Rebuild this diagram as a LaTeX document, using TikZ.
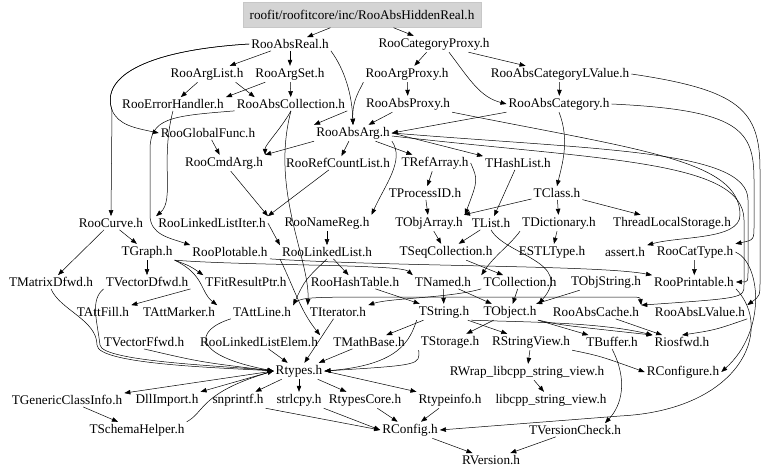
\documentclass[tikz,border=0pt]{standalone}
\usepackage{fontspec}
\setmainfont{Liberation Serif}
\usetikzlibrary{arrows.meta}
\tikzset{
  hdr/.style={font=\fontsize{13.2}{15}\selectfont,inner sep=2pt},
  hdrroot/.style={hdr,fill=black!17,draw=black!22,minimum width=238pt,minimum height=25pt},
  dep/.style={-{Triangle[length=6pt,width=4.5pt]},line width=0.5pt}
}

\begin{document}
\begin{tikzpicture}[x=1pt,y=-1pt]
  \useasboundingbox[fill=white] (0,0) rectangle (768,476);

  % include files, row by row
  \node[hdrroot] (hidden) at (362,15) {roofit/roofitcore/inc/RooAbsHiddenReal.h};
  \node[hdr] (absreal) at (290,44) {RooAbsReal.h};
  \node[hdr] (catproxy) at (434,44) {RooCategoryProxy.h};
  \node[hdr] (arglist) at (207,74) {RooArgList.h};
  \node[hdr] (argset) at (290,74) {RooArgSet.h};
  \node[hdr] (argproxy) at (407,74) {RooArgProxy.h};
  \node[hdr] (catlvalue) at (560,74) {RooAbsCategoryLValue.h};
  \node[hdr] (errhandler) at (173,104) {RooErrorHandler.h};
  \node[hdr] (abscoll) at (291,104) {RooAbsCollection.h};
  \node[hdr] (absproxy) at (408,104) {RooAbsProxy.h};
  \node[hdr] (abscat) at (559,104) {RooAbsCategory.h};
  \node[hdr] (globalfunc) at (208,133) {RooGlobalFunc.h};
  \node[hdr] (absarg) at (353,133) {RooAbsArg.h};
  \node[hdr] (cmdarg) at (224,163) {RooCmdArg.h};
  \node[hdr] (refcount) at (338,163) {RooRefCountList.h};
  \node[hdr] (trefarray) at (435,163) {TRefArray.h};
  \node[hdr] (thashlist) at (518,163) {THashList.h};
  \node[hdr] (tprocessid) at (425,193) {TProcessID.h};
  \node[hdr] (tclass) at (557,193) {TClass.h};
  \node[hdr] (curve) at (111,223) {RooCurve.h};
  \node[hdr] (llistiter) at (212,223) {RooLinkedListIter.h};
  \node[hdr] (namereg) at (327,223) {RooNameReg.h};
  \node[hdr] (tobjarray) at (429,223) {TObjArray.h};
  \node[hdr] (tlist) at (491,223) {TList.h};
  \node[hdr] (tdict) at (559,223) {TDictionary.h};
  \node[hdr] (tls) at (672,223) {ThreadLocalStorage.h};
  \node[hdr] (tgraph) at (147,252) {TGraph.h};
  \node[hdr] (plotable) at (230,252) {RooPlotable.h};
  \node[hdr] (llist) at (327,252) {RooLinkedList.h};
  \node[hdr] (tseqcoll) at (446,252) {TSeqCollection.h};
  \node[hdr] (estl) at (552,252) {ESTLType.h};
  \node[hdr] (assert) at (625,252) {assert.h};
  \node[hdr] (cattype) at (695,252) {RooCatType.h};
  \node[hdr] (matrixd) at (51,282) {TMatrixDfwd.h};
  \node[hdr] (vectord) at (147,282) {TVectorDfwd.h};
  \node[hdr] (fitres) at (246,282) {TFitResultPtr.h};
  \node[hdr] (hashtable) at (355,282) {RooHashTable.h};
  \node[hdr] (tnamed) at (443,282) {TNamed.h};
  \node[hdr] (tcoll) at (520,282) {TCollection.h};
  \node[hdr] (tobjstring) at (606,282) {TObjString.h};
  \node[hdr] (printable) at (694,282) {RooPrintable.h};
  \node[hdr] (attfill) at (103,312) {TAttFill.h};
  \node[hdr] (attmarker) at (179,312) {TAttMarker.h};
  \node[hdr] (attline) at (262,312) {TAttLine.h};
  \node[hdr] (titer) at (338,312) {TIterator.h};
  \node[hdr] (tstring) at (444,312) {TString.h};
  \node[hdr] (tobject) at (510,312) {TObject.h};
  \node[hdr] (abscache) at (596,312) {RooAbsCache.h};
  \node[hdr] (abslvalue) at (700,312) {RooAbsLValue.h};
  \node[hdr] (vectorf) at (144,342) {TVectorFfwd.h};
  \node[hdr] (llistelem) at (259,342) {RooLinkedListElem.h};
  \node[hdr] (mathbase) at (369,342) {TMathBase.h};
  \node[hdr] (tstorage) at (450,342) {TStorage.h};
  \node[hdr] (rstringview) at (531,342) {RStringView.h};
  \node[hdr] (tbuffer) at (612,342) {TBuffer.h};
  \node[hdr] (riosfwd) at (682,342) {Riosfwd.h};
  \node[hdr] (rtypes) at (299,371) {Rtypes.h};
  \node[hdr] (rwrap) at (527,372) {RWrap\_libcpp\_string\_view.h};
  \node[hdr] (rconfigure) at (683,372) {RConfigure.h};
  \node[hdr] (genclass) at (67,400) {TGenericClassInfo.h};
  \node[hdr] (dllimport) at (167,400) {DllImport.h};
  \node[hdr] (snprintf) at (238,400) {snprintf.h};
  \node[hdr] (strlcpy) at (299,400) {strlcpy.h};
  \node[hdr] (rtypescore) at (365,400) {RtypesCore.h};
  \node[hdr] (rtypeinfo) at (450,400) {Rtypeinfo.h};
  \node[hdr] (libcpp) at (551,400) {libcpp\_string\_view.h};
  \node[hdr] (schema) at (137,430) {TSchemaHelper.h};
  \node[hdr] (rconfig) at (410,430) {RConfig.h};
  \node[hdr] (tvercheck) at (575,430) {TVersionCheck.h};
  \node[hdr] (rversion) at (491,460) {RVersion.h};

  % upper part
  \draw[dep] (hidden) -- (absreal);
  \draw[dep] (hidden) -- (catproxy);
  \draw[dep] (absreal) -- (arglist);
  \draw[dep] (absreal) -- (argset);
  \draw[dep] (absreal.south east) .. controls (345,70) and (352,95) .. (absarg.north);
  \draw[dep] (absreal.west) .. controls (150,50) and (100,75) .. (112,110) .. controls (118,125) and (135,128) .. (globalfunc.west);
  \draw[dep] (absreal.west) .. controls (150,50) and (100,75) .. (112,110) -- (curve.north);
  \draw[dep] (catproxy) -- (argproxy);
  \draw[dep] (catproxy) -- (catlvalue);
  \draw[dep] ([xshift=15pt]catproxy.south) .. controls (470,80) and (480,97) .. (abscat.west);
  \draw[dep] (arglist) -- (errhandler);
  \draw[dep] ([xshift=-10pt]arglist.south east) -- ([xshift=20pt]abscoll.north west);
  \draw[dep] ([xshift=12pt]argset.south west) -- (errhandler.north east);
  \draw[dep] (argset) -- (abscoll);
  \draw[dep] (argproxy) -- (absproxy);
  \draw[dep] (argproxy.south west) .. controls (360,90) and (352,100) .. (absarg.north);
  \draw[dep] (catlvalue) -- (abscat);
  \draw[dep] (absproxy) -- (absarg);
  \draw[dep] (abscat.south west) -- (absarg.east);
  \draw[dep] (abscoll.south east) .. controls (330,118) .. (absarg.north west);
  \draw[dep] (abscoll.south west) .. controls (170,116) and (150,118) .. (150,150) -- (150,215) .. controls (150,235) and (170,238) .. (plotable.north west);
  \draw[dep] (errhandler.south) .. controls (160,160) and (175,200) .. (llistiter.north west);

  % RooAbsArg and below
  \draw[dep] (absarg) -- (refcount);
  \draw[dep] (absarg) -- (trefarray);
  \draw[dep] (absarg.east) -- (thashlist.north west);
  \draw[dep] (absarg.south west) -- (cmdarg.north east);
  \draw[dep] (abscoll.south) .. controls (280,130) and (265,145) .. (cmdarg.north east);
  \draw[dep] (globalfunc) -- (cmdarg);
  \draw[dep] (absarg.south east) .. controls (405,160) and (385,185) .. (namereg.north east);
  \draw[dep] (refcount) -- (llistiter.north east);
  \draw[dep] (cmdarg) -- (llistiter.north east);
  \draw[dep] (llistiter.east) -- (llist.north west);
  \draw[dep] (namereg) -- (llist);
  \draw[dep] (trefarray) -- (tprocessid);
  \draw[dep] (tprocessid) -- (tobjarray);
  \draw[dep] (trefarray.east) .. controls (478,180) .. (tobjarray.north east);
  \draw[dep] (thashlist) -- (tlist);
  \draw[dep] (abscat.south) .. controls (570,140) and (562,165) .. (tclass.north);
  \draw[dep] (tclass) -- (tobjarray);
  \draw[dep] (tclass) -- (tdict);
  \draw[dep] (tclass) -- (tls);
  \draw[dep] (tobjarray) -- (tseqcoll);
  \draw[dep] (tlist) -- (tseqcoll);
  \draw[dep] (tdict) -- (estl);
  \draw[dep] (tseqcoll) -- (tcoll);
  \draw[dep] (tdict.south west) .. controls (510,245) and (495,255) .. (tcoll.north west);
  \draw[dep] (tlist.south) .. controls (505,255) and (575,262) .. (tobject.north east);

  % right-hand bundle
  \draw[dep] (catlvalue.east) .. controls (740,90) and (760,110) .. (760,170) -- (760,280) .. controls (760,296) .. (abslvalue.north east);
  \draw[dep] (abscat.east) .. controls (740,110) and (754,130) .. (754,180) -- (754,225) .. controls (754,240) .. (cattype.north east);
  \draw[dep] (absarg.east) .. controls (600,150) and (748,150) .. (748,200) -- (748,270) .. controls (748,282) .. (printable.east);
  \draw[dep] (absproxy.south east) .. controls (640,150) and (740,160) .. (740,215) .. controls (740,240) and (680,236) .. (assert.north east);
  \draw[dep] ([yshift=-3pt]absarg.east) .. controls (600,160) and (744,160) .. (744,220) -- (744,285) .. controls (744,298) .. (abscache.north east);
  \draw[dep] (cattype) -- (printable);
  \draw[dep] (cattype.east) .. controls (760,262) and (768,330) .. (rconfigure.east);
  \draw[dep] (printable.south east) .. controls (775,330) and (740,410) .. (620,416) -- (rconfig.east);

  % TGraph side
  \draw[dep] (curve) -- (tgraph);
  \draw[dep] (curve) -- (matrixd);
  \draw[dep] (tgraph) -- (vectord);
  \draw[dep] (tgraph.south east) .. controls (205,275) and (200,292) .. (attmarker.north east);
  \draw[dep] (vectord.south east) -- (attfill.north east);
  \draw[dep] (tgraph.south east) .. controls (190,266) .. (fitres.north west);
  \draw[dep] (tgraph.south east) .. controls (250,266) and (400,264) .. (tnamed.north west);
  \draw[dep] (plotable.south east) .. controls (400,267) and (600,265) .. (printable.north west);
  \draw[dep] (llist) -- (hashtable);

  % central column
  \draw[dep] (abscoll.south) .. controls (270,190) and (310,260) .. (titer.north west);
  \draw[dep] (llist.south) .. controls (305,280) .. (attline.north east);
  \draw[dep] (llist.south west) .. controls (295,290) and (300,310) .. (llistelem.north east);
  \draw[dep] (attline.north east) .. controls (300,297) .. (400,297) -- (620,297) .. controls (640,297) .. (abscache.north east);
  \draw[dep] (tnamed) -- (tstring);
  \draw[dep] (tnamed) -- (tobject);
  \draw[dep] (tcoll) -- (tobject);
  \draw[dep] (tcoll.south west) .. controls (450,298) and (390,298) .. (titer.north east);
  \draw[dep] (hashtable) -- (tstring);
  \draw[dep] (tobjstring) -- (tobject);

  % towards Rtypes
  \draw[dep] (matrixd.south) .. controls (60,310) and (97,320) .. (97,345) .. controls (97,365) and (230,368) .. (rtypes.west);
  \draw[dep] (vectord.south west) .. controls (90,300) and (97,320) .. (100,345) .. controls (102,362) and (230,366) .. (rtypes.west);
  \draw[dep] (vectorf.south) .. controls (200,362) .. (rtypes.west);
  \draw[dep] (attline.south west) .. controls (195,330) and (190,355) .. (rtypes.west);
  \draw[dep] (llistelem) -- (rtypes);
  \draw[dep] (titer) -- (rtypes);
  \draw[dep] (mathbase) -- (rtypes);
  \draw[dep] (tstorage.south west) .. controls (420,365) .. (rtypes.east);
  \draw[dep] (tstring.south west) .. controls (410,340) and (400,365) .. (rtypes.east);
  \draw[dep] (tstring) -- (mathbase);
  \draw[dep] (tstring) -- (rstringview);
  \draw[dep] (tobject) -- (tstorage);
  \draw[dep] (tobject) -- (tbuffer);
  \draw[dep] (tobject.south east) .. controls (560,325) .. (riosfwd.north west);
  \draw[dep] (tstring.south east) .. controls (520,322) and (600,322) .. (riosfwd.north west);
  \draw[dep] (abscache) -- (riosfwd);
  \draw[dep] (abslvalue.south east) .. controls (715,330) .. (riosfwd.north);
  \draw[dep] (rstringview) -- (rwrap);
  \draw[dep] (rstringview.south east) .. controls (600,356) .. (rconfigure.west);
  \draw[dep] (rwrap) -- (libcpp);
  \draw[dep] (tbuffer.south) .. controls (628,380) and (622,405) .. ([xshift=30pt]tvercheck.north);

  % bottom
  \draw[dep] (rtypes.west) -- (genclass.north east);
  \draw[dep] (rtypes.west) -- (dllimport.north east);
  \draw[dep] (rtypes) -- (snprintf);
  \draw[dep] (rtypes) -- (strlcpy);
  \draw[dep] (rtypes) -- (rtypescore);
  \draw[dep] (rtypes.east) -- (rtypeinfo.north west);
  \draw[dep] (genclass) -- (schema);
  \draw[dep] (schema.north east) .. controls (205,412) and (200,393) .. (rtypes.west);
  \draw[dep] (snprintf.south east) -- (rconfig.west);
  \draw[dep] (strlcpy.south east) -- (rconfig.west);
  \draw[dep] (rtypescore) -- (rconfig);
  \draw[dep] (rtypeinfo) -- (rconfig);
  \draw[dep] (rconfig) -- (rversion);
  \draw[dep] (tvercheck) -- (rversion);
\end{tikzpicture}
\end{document}
